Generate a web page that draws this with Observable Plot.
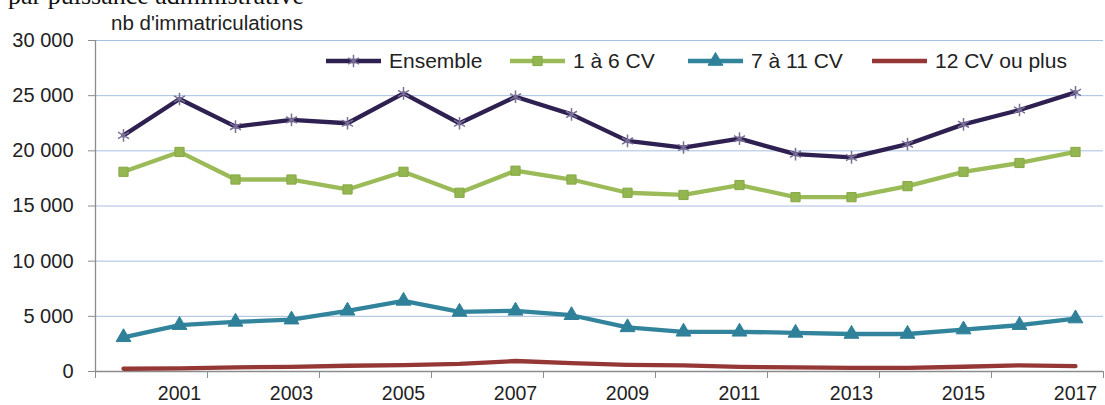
<!DOCTYPE html>
<html><head><meta charset="utf-8">
<script src="https://cdn.jsdelivr.net/npm/d3@7"></script>
<script src="https://cdn.jsdelivr.net/npm/@observablehq/plot@0.6"></script>
<style>
body{margin:0;background:#fff;font-family:"Liberation Sans",Arial,sans-serif;color:#222;}
#wrap{position:relative;width:1105px;height:405px;overflow:hidden;}
#title{position:absolute;left:8px;top:-17px;font-family:"Liberation Serif","Times New Roman",serif;font-size:26px;line-height:1;white-space:nowrap;color:#111;}
#ylab{position:absolute;left:111px;top:13px;font-size:20.5px;line-height:1;white-space:nowrap;}
#chart{position:absolute;left:0;top:30px;}
.item{position:absolute;top:51px;height:20px;display:flex;align-items:center;font-size:21px;line-height:20px;white-space:nowrap;}
.item svg{margin-right:8px;}
</style></head><body>
<div id="wrap">
  <div id="title">par puissance administrative</div>
  <div id="ylab">nb d'immatriculations</div>
  <div id="chart"></div>
  <div id="legend"></div>
</div>
<script>
const years = [2000,2001,2002,2003,2004,2005,2006,2007,2008,2009,2010,2011,2012,2013,2014,2015,2016,2017];
const ensemble = [21400,24700,22200,22800,22500,25200,22500,24900,23300,20900,20300,21100,19700,19400,20600,22400,23700,25300];
const cv1to6   = [18100,19900,17400,17400,16500,18100,16200,18200,17400,16200,16000,16900,15800,15800,16800,18100,18900,19900];
const cv7to11  = [3100,4200,4500,4700,5500,6400,5400,5500,5100,4000,3600,3600,3500,3400,3400,3800,4200,4800];
const cv12plus = [250,280,380,420,520,580,700,950,750,600,550,420,380,320,320,430,560,480];
const seriesNames = ["Ensemble","1 à 6 CV","7 à 11 CV","12 CV ou plus"];
const seriesColors = ["#2e2050","#9bbb59","#31849b","#953735"];
const yTicks = [0,5000,10000,15000,20000,25000,30000];
const xTickLabels = [2001,2003,2005,2007,2009,2011,2013,2015,2017];

const allSeries = [ensemble, cv1to6, cv7to11, cv12plus];
const rows = years.flatMap((yr,i)=> seriesNames.map((s,k)=>({year:yr, series:s, value:allSeries[k][i]})));
const x0 = years[0]-0.5, x1 = years[years.length-1]+0.5;
const boundaries = years.filter((_,i)=>i%2===0).map(y=>y-0.5).concat([x1]);
const fmt = d => d3.format(",")(d).replace(/,/g," ");
const markerStyles = {
  "Ensemble": {symbol:"asterisk", r:6, fill:"none", stroke:"#7a7098", strokeWidth:1.5},
  "1 à 6 CV": {symbol:"square", r:5.2, fill:"#93b650", stroke:"#86a845", strokeWidth:1},
  "7 à 11 CV": {symbol:"triangle", r:5.5, fill:"#2f8199", stroke:"#2f8199", strokeWidth:1}
};

const plot = Plot.plot({
  width:1105, height:375,
  marginLeft:95, marginRight:2, marginTop:10, marginBottom:34,
  x:{domain:[x0,x1]},
  y:{domain:[0,30000]},
  color:{domain:seriesNames, range:seriesColors},
  style:{fontFamily:"'Liberation Sans', Arial, sans-serif", fontSize:"20px", color:"#222", background:"#fff"},
  marks:[
    Plot.ruleY(yTicks.filter(d=>d>0), {stroke:"#a7bfe0", strokeWidth:1}),
    Plot.axisY({ticks:yTicks, tickSize:7, tickPadding:15, tickFormat:fmt, stroke:"#8c8c8c", strokeOpacity:1, label:null, fontSize:20}),
    Plot.axisX({ticks:boundaries, tickSize:7, tickPadding:0, tickFormat:()=>"", stroke:"#8c8c8c", strokeOpacity:1, label:null}),
    Plot.axisX({ticks:xTickLabels, tickSize:0, tickPadding:15, tickFormat:d=>String(d), label:null, fontSize:19.5}),
    Plot.ruleY([0], {stroke:"#8c8c8c", strokeWidth:1.3}),
    Plot.ruleX([x0], {stroke:"#8c8c8c", strokeWidth:1.3}),
    Plot.line(rows, {x:"year", y:"value", z:"series", stroke:"series", strokeWidth:4.3, strokeLinejoin:"round"}),
    ...Object.entries(markerStyles).map(([name,st]) =>
      Plot.dot(rows.filter(d=>d.series===name), {x:"year", y:"value", ...st}))
  ]
});
document.getElementById("chart").appendChild(plot);

// legend
const legendLefts = [326,510,688,872];
const symbolTypes = {asterisk:d3.symbolAsterisk, square:d3.symbolSquare, triangle:d3.symbolTriangle};
const legend = document.getElementById("legend");
seriesNames.forEach((name,i)=>{
  const item = document.createElement("div");
  item.className = "item";
  item.style.left = legendLefts[i]+"px";
  const svg = d3.create("svg").attr("width",55).attr("height",20);
  svg.append("line").attr("x1",0).attr("x2",55).attr("y1",10).attr("y2",10)
     .attr("stroke",seriesColors[i]).attr("stroke-width",4.3);
  const st = markerStyles[name];
  if (st) {
    svg.append("path").attr("transform","translate(27.5,10)")
      .attr("d", d3.symbol(symbolTypes[st.symbol], Math.PI*st.r*st.r)())
      .attr("fill", st.fill).attr("stroke", st.stroke).attr("stroke-width", st.strokeWidth);
  }
  item.appendChild(svg.node());
  const t = document.createElement("span");
  t.textContent = name;
  item.appendChild(t);
  legend.appendChild(item);
});
</script>
</body></html>
